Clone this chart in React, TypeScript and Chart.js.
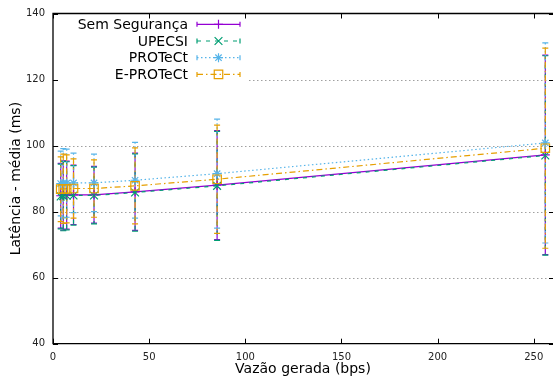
import React, { useEffect, useRef } from 'react';
import { Chart, registerables } from 'chart.js';
Chart.register(...registerables);

const xValues = [4, 5.33, 7.11, 10.67, 21.33, 42.67, 85.33, 256];
const seriesNames = ['Sem Segurança', 'UPECSI', 'PROTeCt', 'E-PROTeCt'];
const semMean = [84.8, 84.9, 85.0, 85.1, 85.1, 86.0, 88.0, 97.2];
const semErr = [9.8, 10.5, 10.3, 9.0, 8.6, 11.7, 16.5, 30.2];
const upecsiMean = [84.6, 84.7, 84.8, 84.9, 84.9, 85.8, 87.8, 97.0];
const upecsiErr = [9.8, 10.5, 10.3, 9.0, 8.6, 11.7, 16.5, 30.2];
const protectMean = [88.5, 88.6, 88.6, 88.7, 88.7, 89.5, 91.5, 100.8];
const protectErr = [9.8, 10.5, 10.3, 9.0, 8.7, 11.5, 16.5, 30.3];
const eprotectMean = [86.8, 86.9, 86.9, 87.0, 87.0, 87.8, 89.8, 99.2];
const eprotectErr = [9.8, 10.5, 10.3, 9.0, 8.7, 11.5, 16.4, 30.3];
const yTicks = [40, 60, 80, 100, 120, 140];
const xTicks = [0, 50, 100, 150, 200, 250];

const colors = ['#9400d3', '#009e73', '#56b4e9', '#e69f00'];
const dashes: number[][] = [[], [4, 5], [1.5, 2.5], [6, 3, 1.5, 3]];
const pointStyles = ['cross', 'crossRot', 'star', 'rect'];
const pointRadii = [4.5, 5.5, 4.5, 6];
const means = [semMean, upecsiMean, protectMean, eprotectMean];
const errs = [semErr, upecsiErr, protectErr, eprotectErr];

const LW = 1.2;
const FONT = '"DejaVu Sans", sans-serif';

const framePlugin = {
  id: 'frame',
  beforeDatasetsDraw(chart: any) {
    const { ctx, chartArea: a, scales } = chart;
    const ys = scales.y;
    const xs = scales.x;
    ctx.save();
    // grid
    ctx.strokeStyle = '#a0a0a0';
    ctx.lineWidth = 1;
    ctx.setLineDash([1.5, 2.5]);
    for (const v of yTicks) {
      if (v === 40 || v === 140) continue;
      const y = Math.round(ys.getPixelForValue(v)) + 0.5;
      ctx.beginPath();
      ctx.moveTo(a.left, y);
      ctx.lineTo(a.right, y);
      ctx.stroke();
    }
    ctx.setLineDash([]);
    // error bars
    for (let s = 0; s < 4; s++) {
      ctx.strokeStyle = colors[s];
      ctx.lineWidth = LW;
      for (let i = 0; i < xValues.length; i++) {
        const x = xs.getPixelForValue(xValues[i]);
        const y1 = ys.getPixelForValue(means[s][i] + errs[s][i]);
        const y2 = ys.getPixelForValue(means[s][i] - errs[s][i]);
        ctx.setLineDash(dashes[s]);
        ctx.beginPath();
        ctx.moveTo(x, y1);
        ctx.lineTo(x, y2);
        ctx.stroke();
        ctx.setLineDash([]);
        ctx.beginPath();
        ctx.moveTo(x - 3, y1);
        ctx.lineTo(x + 3, y1);
        ctx.moveTo(x - 3, y2);
        ctx.lineTo(x + 3, y2);
        ctx.stroke();
      }
    }
    ctx.restore();
  },
  afterDatasetsDraw(chart: any) {
    const { ctx, chartArea: a, scales } = chart;
    const ys = scales.y;
    const xs = scales.x;
    ctx.save();
    // legend (opaque)
    ctx.fillStyle = '#ffffff';
    ctx.fillRect(a.left + 1, a.top + 1, 194, 69);
    const rows = [24.3, 41, 57.7, 74.4];
    ctx.font = `14px ${FONT}`;
    ctx.textAlign = 'right';
    ctx.textBaseline = 'middle';
    for (let s = 0; s < 4; s++) {
      const y = rows[s];
      ctx.fillStyle = '#000';
      ctx.fillText(seriesNames[s], 188, y + 1);
      ctx.strokeStyle = colors[s];
      ctx.lineWidth = LW;
      ctx.setLineDash(dashes[s]);
      ctx.beginPath();
      ctx.moveTo(197, y);
      ctx.lineTo(240, y);
      ctx.stroke();
      ctx.setLineDash([]);
      ctx.beginPath();
      ctx.moveTo(197, y - 2.5);
      ctx.lineTo(197, y + 2.5);
      ctx.moveTo(240, y - 2.5);
      ctx.lineTo(240, y + 2.5);
      ctx.stroke();
      // marker
      const meta = chart.getDatasetMeta(s);
      const pt = meta.data[0];
      if (pt) {
        const save = { x: pt.x, y: pt.y };
        pt.x = 218.5;
        pt.y = y;
        pt.draw(ctx, undefined);
        pt.x = save.x;
        pt.y = save.y;
      }
    }
    // border (right edge lies just beyond the image)
    ctx.strokeStyle = '#000';
    ctx.lineWidth = 1.3;
    ctx.beginPath();
    ctx.moveTo(a.right, a.top);
    ctx.lineTo(a.left, a.top);
    ctx.lineTo(a.left, a.bottom);
    ctx.lineTo(a.right, a.bottom);
    ctx.stroke();
    // inside ticks
    ctx.lineWidth = 1;
    ctx.beginPath();
    for (const v of yTicks) {
      const y = Math.round(ys.getPixelForValue(v)) + 0.5;
      ctx.moveTo(a.left, y);
      ctx.lineTo(a.left + 5, y);
      ctx.moveTo(a.right, y);
      ctx.lineTo(a.right - 4, y);
    }
    for (const v of xTicks) {
      const x = Math.round(xs.getPixelForValue(v)) + 0.5;
      ctx.moveTo(x, a.bottom);
      ctx.lineTo(x, a.bottom - 5);
      ctx.moveTo(x, a.top);
      ctx.lineTo(x, a.top + 5);
    }
    ctx.stroke();
    ctx.restore();
  },
};

export default function App() {
  const ref = useRef<HTMLCanvasElement | null>(null);
  useEffect(() => {
    document.body.style.margin = '0';
    const canvas = ref.current;
    if (!canvas) return;
    const datasets = seriesNames.map((name, s) => ({
      label: name,
      data: xValues.map((x, i) => ({ x, y: means[s][i] })),
      borderColor: colors[s],
      backgroundColor: 'transparent',
      borderWidth: LW,
      borderDash: dashes[s],
      showLine: true,
      pointStyle: pointStyles[s],
      pointRadius: pointRadii[s],
      pointBorderWidth: LW,
      pointBorderColor: colors[s],
      pointBackgroundColor: 'transparent',
      order: 3 - s,
      tension: 0,
      clip: false,
    }));
    const chart = new Chart(canvas, {
      type: 'scatter',
      data: { datasets },
      plugins: [framePlugin],
      options: {
        animation: false,
        responsive: false,
        devicePixelRatio: 1,
        layout: { autoPadding: false, padding: { top: 13.5, right: 0, left: 0, bottom: 0 } },
        plugins: { legend: { display: false }, tooltip: { enabled: false } },
        scales: {
          x: {
            type: 'linear',
            min: 0,
            max: 260,
            afterFit: (s: any) => { s.height = 37.3; s.paddingLeft = 0; s.paddingRight = 0; },
            afterBuildTicks: (s: any) => { s.ticks = xTicks.map((v) => ({ value: v })); },
            grid: { display: false, drawTicks: false },
            border: { display: false },
            ticks: { padding: 8, font: { family: FONT, size: 10 }, color: '#222', maxRotation: 0 },
            title: { display: true, text: 'Vazão gerada (bps)', font: { family: FONT, size: 14 }, color: '#000', padding: { top: 0, bottom: 3.6 } },
          },
          y: {
            type: 'linear',
            min: 40,
            max: 140,
            afterFit: (s: any) => { s.width = 53; s.paddingTop = 0; s.paddingBottom = 0; },
            afterBuildTicks: (s: any) => { s.ticks = yTicks.map((v) => ({ value: v })); },
            grid: { display: false, drawTicks: false },
            border: { display: false },
            ticks: { padding: 8, font: { family: FONT, size: 10 }, color: '#222' },
            title: { display: true, text: 'Latência - média (ms)', font: { family: FONT, size: 14 }, color: '#000', padding: { top: 7.6, bottom: 0 } },
          },
        },
      },
    } as any);
    return () => chart.destroy();
  }, []);
  return <canvas ref={ref} width={553} height={381} style={{ display: 'block' }} />;
}
